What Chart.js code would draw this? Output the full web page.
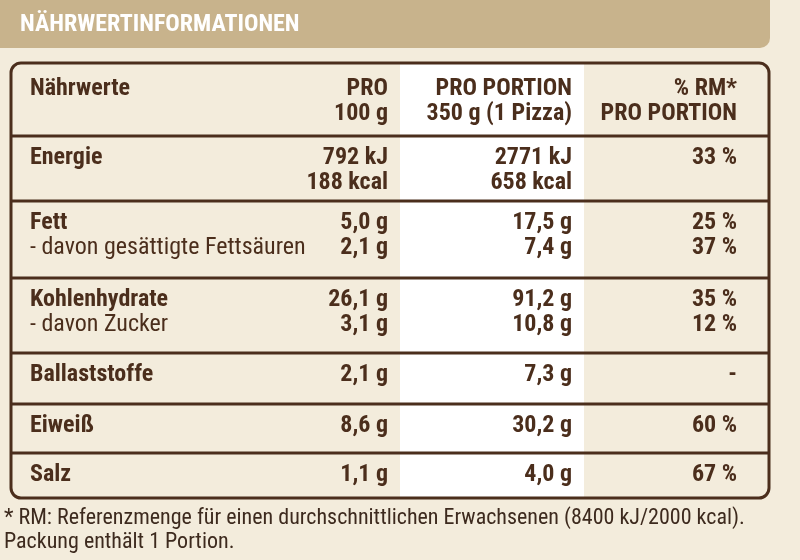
<!DOCTYPE html>
<html>
<head>
<meta charset="utf-8">
<script src="https://cdn.jsdelivr.net/npm/chart.js@4"></script>
<style>
  html, body { margin: 0; padding: 0; background: #f3ecdc; }
  #wrap { width: 800px; height: 560px; }
</style>
</head>
<body>
<div id="wrap"><canvas id="tabelle"></canvas></div>
<script>
var titel = "NÄHRWERTINFORMATIONEN";
var kopf = [["Nährwerte"], ["PRO", "100 g"], ["PRO PORTION", "350 g (1 Pizza)"], ["% RM*", "PRO PORTION"]];

// each group = one block between lines, lines inside a group = sub rows
var naehrwerte = [
    ["Energie", ""],
    ["Fett", "- davon gesättigte Fettsäuren"],
    ["Kohlenhydrate", "- davon Zucker"],
    ["Ballaststoffe"],
    ["Eiweiß"],
    ["Salz"]
];
var pro100 = [
    ["792 kJ", "188 kcal"],
    ["5,0 g", "2,1 g"],
    ["26,1 g", "3,1 g"],
    ["2,1 g"],
    ["8,6 g"],
    ["1,1 g"]
];
var proPortion = [
    ["2771 kJ", "658 kcal"],
    ["17,5 g", "7,4 g"],
    ["91,2 g", "10,8 g"],
    ["7,3 g"],
    ["30,2 g"],
    ["4,0 g"]
];
var rmProzent = [
    ["33 %", ""],
    ["25 %", "37 %"],
    ["35 %", "12 %"],
    ["-"],
    ["60 %"],
    ["67 %"]
];
var fussnote = [
    "* RM: Referenzmenge für einen durchschnittlichen Erwachsenen (8400 kJ/2000 kcal).",
    "Packung enthält 1 Portion."
];

var braun = "#4b2e1c";
var schrift = "'Liberation Sans Narrow', 'Roboto Condensed', Roboto, sans-serif";

// row tops (in table units) – header then one per group, last is table bottom
var zeilenGrenzen = [64, 136, 201, 278, 353, 404, 453, 498];

var tabellePlugin = {
    id: "tabelle",
    beforeDraw: function (chart) {
        var ctx = chart.ctx;
        var sx = chart.scales.x, sy = chart.scales.y;
        function X(v) { return sx.getPixelForValue(v); }
        function Y(v) { return sy.getPixelForValue(v); }

        ctx.save();
        ctx.fillStyle = "#f3ecdc";
        ctx.fillRect(0, 0, chart.width, chart.height);

        // title bar
        ctx.fillStyle = "#c8b38c";
        ctx.beginPath();
        ctx.roundRect(X(0) - 10, Y(0) - 10, X(770) - X(0) + 10, Y(48) - Y(0) + 10, 10);
        ctx.fill();
        ctx.fillStyle = "#ffffff";
        ctx.font = "bold 24px " + schrift;
        ctx.textBaseline = "middle";
        ctx.fillText(titel, X(20), Y(25));

        // white column
        ctx.fillStyle = "#ffffff";
        ctx.fillRect(X(400), Y(64), X(584) - X(400), Y(498) - Y(64));

        // table frame
        ctx.strokeStyle = braun;
        ctx.lineWidth = 3;
        ctx.beginPath();
        ctx.roundRect(X(11), Y(63), X(769) - X(11), Y(498) - Y(63), 10);
        ctx.stroke();
        for (var i = 1; i < zeilenGrenzen.length - 1; i++) {
            ctx.beginPath();
            ctx.moveTo(X(11), Y(zeilenGrenzen[i]));
            ctx.lineTo(X(769), Y(zeilenGrenzen[i]));
            ctx.stroke();
        }

        ctx.fillStyle = braun;
        ctx.textBaseline = "alphabetic";
        var spalten = [{ x: 30, a: "left" }, { x: 388, a: "right" }, { x: 572, a: "right" }, { x: 737, a: "right" }];

        // header
        ctx.font = "bold 24px " + schrift;
        for (var c = 0; c < kopf.length; c++) {
            ctx.textAlign = spalten[c].a;
            for (var l = 0; l < kopf[c].length; l++) {
                ctx.fillText(kopf[c][l], X(spalten[c].x), Y(zeilenGrenzen[0] + 31 + l * 25));
            }
        }

        // body
        var spaltenDaten = [naehrwerte, pro100, proPortion, rmProzent];
        for (var g = 0; g < naehrwerte.length; g++) {
            var top = zeilenGrenzen[g + 1];
            for (var c2 = 0; c2 < spaltenDaten.length; c2++) {
                ctx.textAlign = spalten[c2].a;
                var zellen = spaltenDaten[c2][g];
                for (var k = 0; k < zellen.length; k++) {
                    var fett = !(c2 === 0 && k > 0);
                    ctx.font = (fett ? "bold " : "") + "24px " + schrift;
                    ctx.fillText(zellen[k], X(spalten[c2].x), Y(top + 28 + k * 25));
                }
            }
        }

        // footnote
        ctx.textAlign = "left";
        ctx.font = "22px " + schrift;
        ctx.fillStyle = "#3d2a1e";
        for (var f = 0; f < fussnote.length; f++) {
            ctx.fillText(fussnote[f], X(4), Y(524 + f * 24));
        }
        ctx.restore();
    }
};

new Chart(document.getElementById("tabelle"), {
    type: "scatter",
    data: { datasets: [{ data: [] }] },
    options: {
        responsive: true,
        maintainAspectRatio: false,
        animation: false,
        layout: { padding: 0 },
        plugins: { legend: { display: false }, tooltip: { enabled: false } },
        scales: {
            x: { type: "linear", min: 0, max: 800, display: false },
            y: { type: "linear", min: 0, max: 560, reverse: true, display: false }
        }
    },
    plugins: [tabellePlugin]
});
</script>
</body>
</html>
